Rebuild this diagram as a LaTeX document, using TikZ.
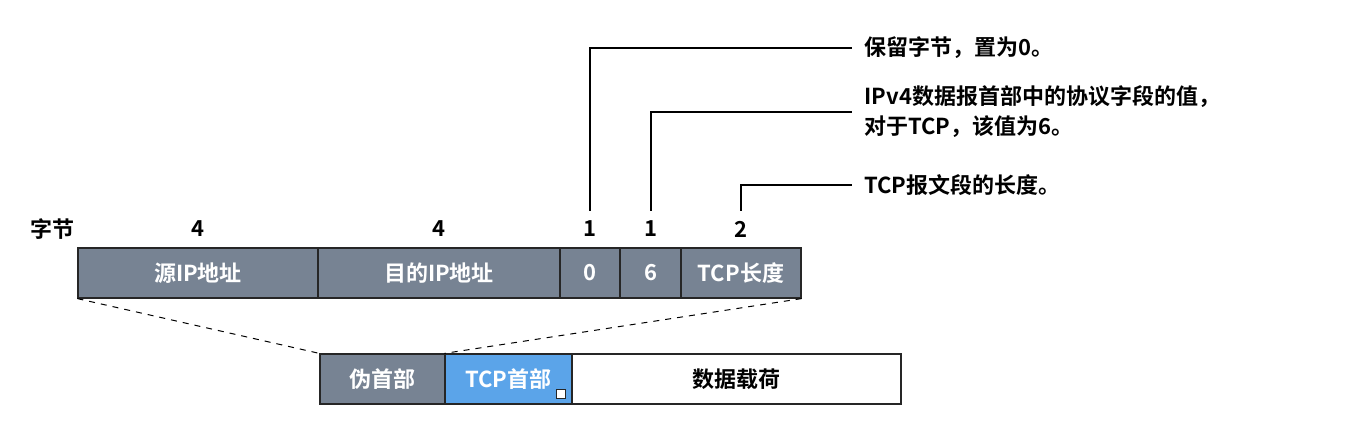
\documentclass[tikz,border=0pt]{standalone}
\usepackage{fontspec}
\setmainfont{Noto Sans CJK SC}[BoldFont={* Bold}]
\usetikzlibrary{positioning}
\definecolor{hdrgray}{HTML}{778393}
\definecolor{tcpblue}{HTML}{5BA4E9}

\begin{document}
\begin{tikzpicture}[
  x=0.5pt, y=-0.5pt,
  field/.style={draw=black!85, line width=0.6pt, fill=hdrgray, text=white, font=\bfseries\fontsize{11}{13}\selectfont, inner sep=0pt, minimum height=25pt},
  num/.style={font=\bfseries\fontsize{11}{13}\selectfont, inner sep=1pt},
  note/.style={font=\bfseries\fontsize{11}{15}\selectfont, anchor=west, align=left, inner sep=0pt},
  callout/.style={line width=1pt},
  zoomline/.style={dashed, line width=0.5pt}
]
\useasboundingbox (0,0) rectangle (1353,422);

% pseudo header fields
\node[field, minimum width=120pt] (src) at (198,273) {源IP地址};
\node[field, minimum width=121pt] (dst) at (439,273) {目的IP地址};
\node[field, minimum width=30pt] (zero) at (590,273) {0};
\node[field, minimum width=30.5pt] (proto) at (650.5,273) {6};
\node[field, minimum width=60pt] (len) at (741,273) {TCP长度};

% byte counts
\node[num] (bytes) at (52,229) {字节};
\node[num] (b1) at (198,229) {4};
\node[num] (b2) at (439,229) {4};
\node[num] (b3) at (590,229) {1};
\node[num] (b4) at (650.5,229) {1};
\node[num] (b5) at (741,229) {2};

% notes
\node[note] (t1) at (864,48) {保留字节，置为0。};
\node[note] (t2) at (864,112) {IPv4数据报首部中的协议字段的值，\\对于TCP，该值为6。};
\node[note] (t3) at (864,185) {TCP报文段的长度。};

\draw[callout] ([yshift=4pt]b3.north) |- ([xshift=-6pt]t1.west);
\draw[callout] ([yshift=4pt]b4.north) |- ([xshift=-6pt]t2.west);
\draw[callout] ([yshift=4pt]b5.north) |- ([xshift=-6pt]t3.west);

% segment
\node[field, minimum width=62.5pt] (pseudo) at (382.5,379) {伪首部};
\node[field, fill=tcpblue, minimum width=63.5pt] (tcphdr) at (508.5,379) {TCP首部};
\node[field, fill=white, text=black, minimum width=164.5pt] (data) at (736.5,379) {数据载荷};
\node[draw=black!85, fill=white, line width=0.8pt, minimum size=4.5pt, inner sep=0pt] (mark) at (561,394) {};

\draw[zoomline] (src.south west) -- (pseudo.north west);
\draw[zoomline] (len.south east) -- (tcphdr.north west);
\end{tikzpicture}
\end{document}
